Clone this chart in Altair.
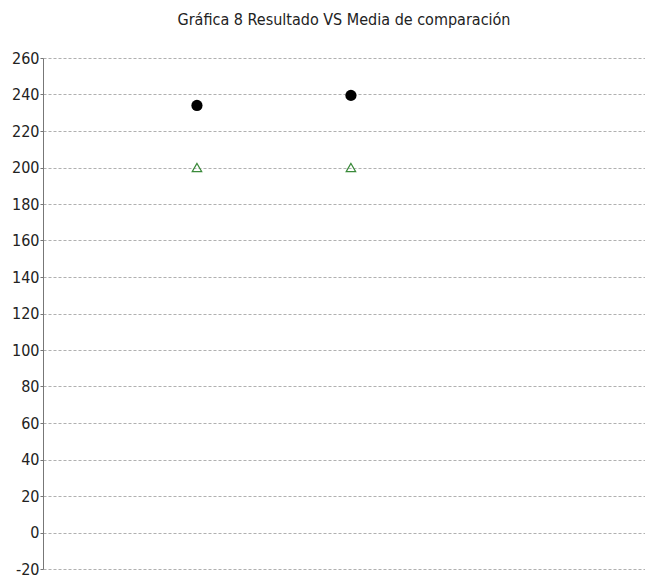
import altair as alt
import pandas as pd

categories = [1, 2]
resultado = [234, 239.5]
media = [200, 200]
y_ticks = list(range(-20, 261, 20))

df_res = pd.DataFrame({"x": categories, "valor": resultado})
df_med = pd.DataFrame({"x": categories, "valor": media})

FONT = "DejaVu Sans Condensed, Roboto Condensed, Open Sans Condensed, Roboto"

x_enc = alt.X("x:Q", scale=alt.Scale(domain=[0, 3.91]), axis=None)
y_scale = alt.Scale(domain=[-20, 260], nice=False, zero=False)
y_axis = alt.Axis(values=y_ticks, title=None, grid=True, gridDash=[3, 2],
                  gridColor="#b0b0b0", gridWidth=1.2, domainColor="#777777",
                  tickColor="#777777", tickSize=3, labelFontSize=16,
                  labelColor="#222222", labelFont=FONT, labelPadding=1,
                  labelOverlap=False, labelBound=False, labelFlush=False,
                  labelExpr="replace(datum.label, '\u2212', '-')")

res = alt.Chart(df_res).mark_point(shape="circle", filled=True, color="black",
                                   size=125, opacity=1).encode(
    x=x_enc, y=alt.Y("valor:Q", scale=y_scale, axis=y_axis))
med = alt.Chart(df_med).mark_point(shape="triangle-up", filled=False,
                                   color="#3a8a3a", size=90, strokeWidth=1.2,
                                   opacity=1).encode(
    x=x_enc, y=alt.Y("valor:Q", scale=y_scale, axis=y_axis))

chart = (res + med).properties(
    width=602, height=511,
    title=alt.TitleParams("Gráfica 8 Resultado VS Media de comparación",
                          font=FONT, fontSize=16, fontWeight="normal",
                          color="#222222", anchor="middle", offset=22),
    autosize=alt.AutoSizeParams(type="none"),
    padding={"left": 35, "top": 50, "right": 0, "bottom": 9},
).configure_view(stroke=None)

chart.save("out.html", embed_options={"renderer": "svg", "actions": False})
